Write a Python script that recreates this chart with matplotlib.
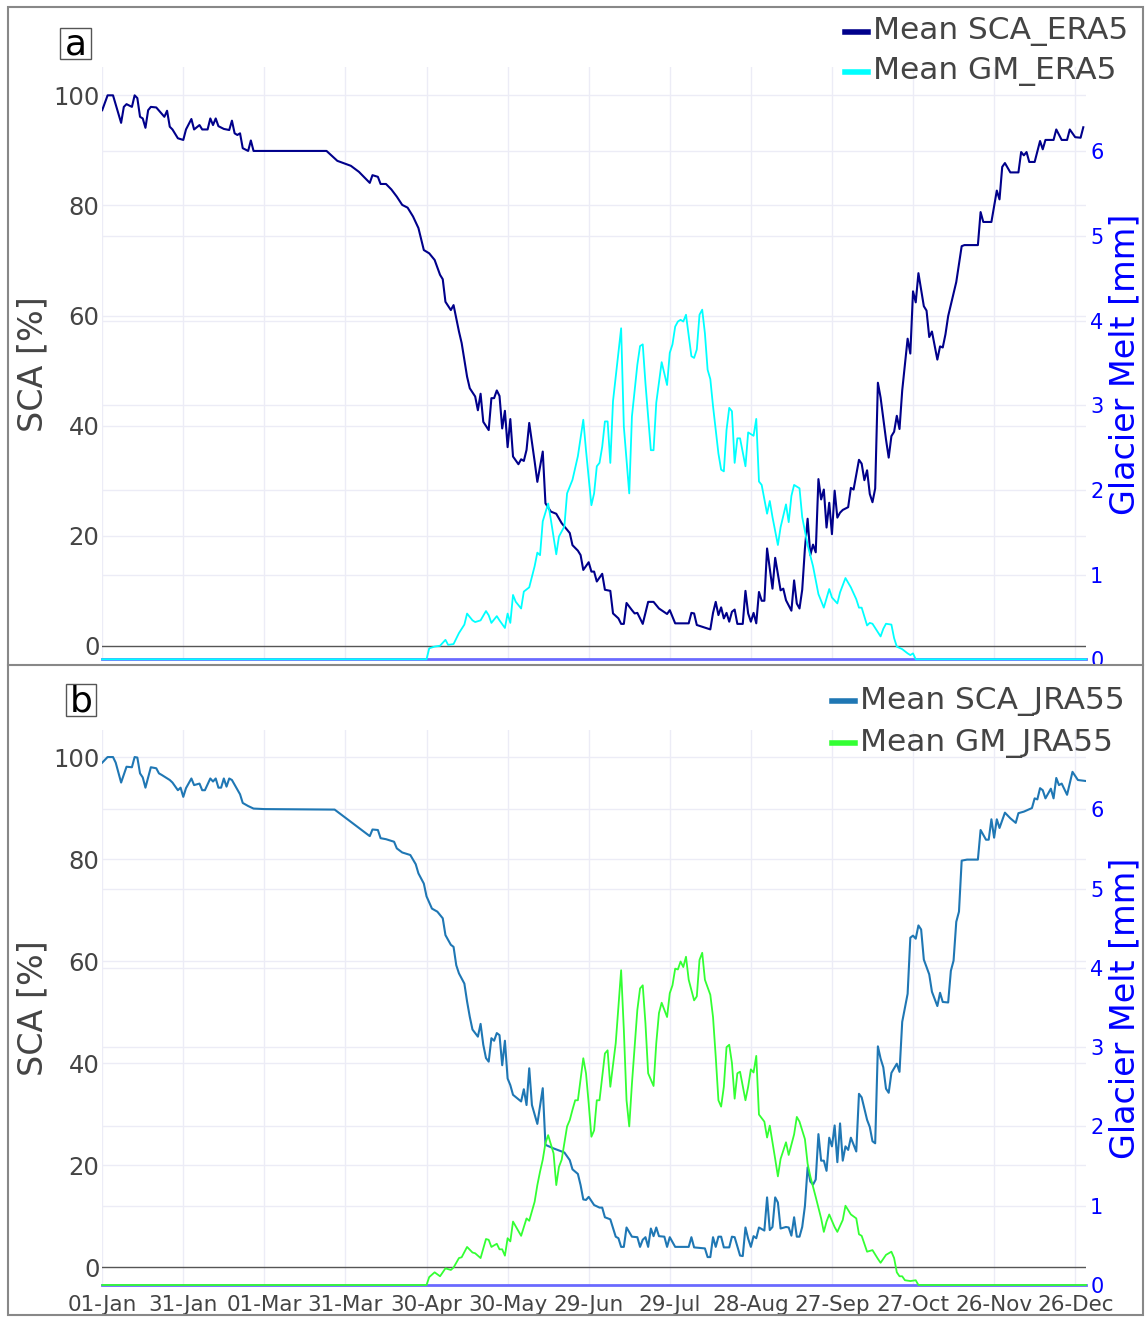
import matplotlib
matplotlib.use("Agg")
import matplotlib.pyplot as plt
from matplotlib.lines import Line2D
from matplotlib.patches import Rectangle
from matplotlib.transforms import Bbox, TransformedBbox, blended_transform_factory

plt.rcParams["font.family"] = ["DejaVu Sans"]

W, H = 1146, 1318

# x axis is day of year, labelled every 30 days
tick_days = [0, 30, 60, 90, 120, 150, 180, 210, 240, 270, 300, 330, 360]
tick_labels = ["01-Jan", "31-Jan", "01-Mar", "31-Mar", "30-Apr", "30-May",
               "29-Jun", "29-Jul", "28-Aug", "27-Sep", "27-Oct", "26-Nov", "26-Dec"]

# (day, snow covered area %) and (day, glacier melt mm)
sca_era5 = [
    (0, 97.3), (2, 100.0), (4, 100.0), (7, 95.0), (8, 97.9), (9, 98.4), (11, 97.9), (12, 100.0),
    (13, 99.5), (14, 96.1), (15, 95.8), (16, 94.1), (17, 97.3), (18, 97.9), (20, 97.8), (23, 96.1),
    (24, 97.2), (25, 94.3), (26, 93.8), (28, 92.2), (30, 91.9), (31, 93.8), (33, 95.7), (34, 93.8),
    (36, 94.6), (37, 93.8), (39, 93.8), (40, 95.8), (41, 94.6), (42, 95.8), (43, 94.4), (45, 93.9),
    (47, 93.7), (48, 95.4), (49, 93.1), (50, 92.8), (51, 93.1), (52, 90.4), (54, 89.9), (55, 91.8),
    (56, 89.9), (83, 89.9), (87, 88.1), (92, 87.2), (95, 86.1), (99, 84.1), (100, 85.5), (102, 85.2),
    (103, 83.9), (105, 83.9), (107, 82.9), (109, 81.6), (111, 80.1), (113, 79.6), (115, 78.0),
    (117, 75.9), (119, 71.9), (121, 71.3), (123, 70.1), (125, 67.4), (126, 66.6), (127, 62.5),
    (129, 61.0), (130, 61.9), (132, 57.1), (133, 55.0), (135, 48.9), (136, 46.8), (138, 45.3),
    (139, 42.8), (140, 45.8), (141, 40.7), (143, 39.2), (144, 45.0), (145, 45.0), (146, 46.4),
    (147, 45.4), (148, 39.5), (149, 42.7), (150, 36.1), (151, 41.2), (152, 34.4), (154, 33.0),
    (155, 33.9), (156, 33.6), (157, 35.6), (158, 40.5), (160, 33.5), (161, 29.8), (163, 35.3),
    (164, 25.9), (166, 24.4), (168, 24.0), (170, 22.3), (173, 20.5), (174, 18.3), (176, 17.3),
    (177, 16.5), (178, 13.8), (180, 15.2), (181, 13.5), (182, 13.5), (183, 11.7), (185, 13.1),
    (186, 10.2), (188, 10.0), (189, 5.9), (191, 5.0), (192, 4.0), (193, 4.0), (194, 7.8), (196, 6.5),
    (197, 5.9), (198, 6.0), (200, 4.0), (201, 6.0), (202, 8.0), (204, 8.0), (206, 6.8), (209, 5.8),
    (210, 6.5), (212, 4.1), (217, 4.1), (218, 6.0), (219, 5.9), (220, 3.8), (225, 3.0), (226, 6.0),
    (227, 8.0), (228, 5.6), (229, 7.0), (230, 5.0), (231, 6.0), (232, 4.4), (233, 6.2), (234, 6.6),
    (235, 4.0), (237, 4.0), (238, 10.0), (239, 5.9), (240, 4.4), (241, 6.0), (242, 4.1), (243, 9.8),
    (244, 8.2), (245, 8.2), (246, 17.7), (248, 10.4), (249, 16.0), (251, 10.1), (252, 10.4),
    (253, 8.3), (255, 6.4), (256, 11.9), (257, 7.7), (258, 6.8), (259, 10.2), (260, 17.7),
    (261, 23.1), (262, 16.5), (263, 18.4), (264, 17.0), (265, 30.3), (266, 26.6), (267, 28.4),
    (268, 21.5), (269, 26.0), (270, 20.3), (271, 28.2), (272, 23.3), (273, 24.2), (274, 24.7),
    (276, 25.2), (277, 28.7), (278, 28.4), (280, 33.8), (281, 33.1), (282, 30.1), (283, 31.9),
    (284, 27.6), (285, 26.1), (286, 28.6), (287, 47.8), (288, 45.1), (290, 37.5), (291, 34.2),
    (292, 38.1), (293, 38.9), (294, 41.8), (295, 39.4), (296, 46.4), (298, 55.8), (299, 53.1),
    (300, 64.4), (301, 62.4), (302, 67.7), (304, 61.7), (305, 60.9), (306, 56.1), (307, 57.1),
    (309, 52.0), (310, 54.4), (311, 54.2), (312, 56.6), (313, 59.9), (316, 66.1), (318, 72.6),
    (319, 72.8), (324, 72.8), (325, 78.8), (326, 77.0), (329, 77.0), (331, 82.7), (332, 81.1),
    (333, 87.0), (334, 87.7), (336, 86.0), (339, 86.0), (340, 89.7), (341, 89.1), (342, 89.7),
    (343, 87.9), (345, 87.9), (347, 91.7), (348, 90.2), (349, 91.9), (352, 91.9), (353, 93.8),
    (355, 91.9), (357, 91.9), (358, 93.8), (360, 92.4), (362, 92.3), (363, 94.2),
]

gm_era5 = [
    (0, 0.0), (120, 0.0), (121, 0.13), (123, 0.15), (125, 0.16), (127, 0.23), (128, 0.17),
    (130, 0.18), (132, 0.31), (134, 0.41), (135, 0.54), (137, 0.46), (138, 0.44), (140, 0.46),
    (142, 0.57), (143, 0.52), (144, 0.43), (146, 0.51), (147, 0.46), (149, 0.37), (150, 0.54),
    (151, 0.43), (152, 0.76), (153, 0.68), (155, 0.60), (156, 0.80), (158, 0.85), (160, 1.10),
    (161, 1.26), (162, 1.23), (163, 1.63), (165, 1.84), (166, 1.65), (168, 1.24), (169, 1.45),
    (171, 1.57), (172, 1.96), (174, 2.12), (176, 2.40), (178, 2.83), (179, 2.47), (181, 1.82),
    (182, 1.96), (183, 2.28), (184, 2.32), (185, 2.51), (186, 2.81), (187, 2.81), (188, 2.32),
    (189, 3.05), (190, 3.34), (192, 3.91), (193, 2.75), (195, 1.96), (196, 2.87), (198, 3.48),
    (199, 3.70), (200, 3.72), (201, 3.26), (203, 2.47), (204, 2.47), (205, 3.03), (207, 3.51),
    (209, 3.24), (210, 3.62), (211, 3.72), (212, 3.93), (213, 3.99), (214, 4.01), (215, 3.99),
    (216, 4.07), (218, 3.58), (219, 3.56), (220, 3.66), (221, 4.07), (222, 4.13), (223, 3.85),
    (224, 3.42), (225, 3.31), (226, 2.99), (228, 2.43), (229, 2.24), (230, 2.22), (231, 2.71),
    (232, 2.97), (233, 2.93), (234, 2.32), (235, 2.61), (236, 2.61), (238, 2.28), (239, 2.68),
    (241, 2.64), (242, 2.84), (243, 2.10), (244, 2.06), (246, 1.72), (247, 1.87), (248, 1.68),
    (250, 1.35), (251, 1.56), (253, 1.83), (254, 1.62), (255, 1.93), (256, 2.06), (258, 2.02),
    (259, 1.68), (261, 1.35), (263, 1.10), (265, 0.77), (267, 0.61), (269, 0.83), (270, 0.73),
    (272, 0.66), (273, 0.79), (275, 0.96), (277, 0.85), (279, 0.71), (280, 0.61), (281, 0.61),
    (283, 0.40), (284, 0.43), (285, 0.42), (287, 0.32), (288, 0.27), (289, 0.36), (290, 0.42),
    (292, 0.41), (293, 0.25), (294, 0.15), (296, 0.12), (298, 0.07), (299, 0.05), (300, 0.07),
    (301, 0.0), (364, 0.0),
]

sca_jra55 = [
    (0, 98.9), (2, 100.0), (4, 100.0), (5, 98.9), (7, 95.0), (9, 98.1), (11, 98.0), (12, 100.0),
    (13, 99.9), (14, 96.8), (15, 96.0), (16, 94.0), (18, 98.0), (20, 97.8), (21, 96.8), (22, 96.5),
    (25, 95.5), (26, 95.0), (28, 93.5), (29, 94.0), (30, 92.2), (31, 93.9), (33, 95.8), (34, 94.5),
    (36, 94.8), (37, 93.5), (38, 93.5), (40, 95.8), (41, 95.2), (42, 95.8), (43, 94.0), (44, 94.0),
    (45, 95.8), (46, 94.2), (47, 95.8), (48, 95.5), (51, 92.7), (52, 91.0), (54, 90.4), (56, 89.9),
    (60, 89.8), (86, 89.7), (99, 84.5), (100, 85.8), (102, 85.7), (103, 84.1), (105, 83.9),
    (108, 83.4), (109, 82.1), (111, 81.3), (114, 80.8), (116, 79.0), (117, 77.2), (119, 75.2),
    (120, 72.7), (122, 70.3), (124, 69.7), (126, 68.4), (127, 65.1), (129, 63.2), (130, 62.8),
    (131, 59.2), (132, 57.6), (134, 55.6), (135, 52.1), (136, 49.1), (137, 46.6), (139, 45.2),
    (140, 47.7), (141, 43.6), (142, 41.0), (143, 40.3), (144, 44.9), (145, 44.4), (146, 45.9),
    (147, 45.5), (148, 39.6), (149, 44.4), (150, 37.0), (151, 35.7), (152, 33.8), (155, 32.5),
    (156, 34.9), (157, 31.8), (158, 39.0), (159, 31.8), (161, 28.1), (163, 35.1), (164, 24.0),
    (167, 23.3), (171, 22.5), (173, 21.0), (174, 19.2), (176, 18.3), (177, 16.1), (178, 13.3),
    (179, 13.2), (180, 13.8), (182, 12.2), (184, 11.7), (185, 11.7), (186, 9.8), (188, 9.4),
    (190, 6.0), (191, 5.7), (192, 4.0), (193, 4.0), (194, 7.8), (196, 6.0), (198, 5.9), (199, 4.0),
    (200, 5.4), (201, 5.9), (202, 4.0), (203, 7.6), (204, 6.1), (205, 7.8), (206, 6.1), (208, 6.0),
    (209, 4.0), (210, 5.9), (212, 4.0), (217, 4.0), (218, 5.9), (219, 3.9), (223, 3.7), (224, 2.0),
    (225, 2.0), (226, 5.9), (227, 4.0), (228, 6.0), (229, 6.0), (230, 3.9), (232, 3.9), (233, 6.0),
    (234, 5.9), (236, 2.3), (237, 2.2), (238, 7.8), (239, 5.6), (240, 4.0), (241, 6.1), (242, 5.7),
    (243, 7.8), (245, 7.2), (246, 13.7), (247, 7.3), (248, 7.9), (249, 13.7), (250, 12.7),
    (251, 7.6), (253, 7.9), (254, 7.8), (255, 6.2), (256, 9.8), (257, 6.0), (258, 6.0), (259, 7.9),
    (260, 12.0), (261, 19.6), (262, 16.8), (263, 16.2), (264, 17.2), (265, 26.1), (266, 20.9),
    (267, 20.9), (268, 18.9), (269, 25.4), (270, 23.7), (271, 27.8), (272, 20.6), (273, 28.2),
    (274, 20.9), (275, 23.7), (276, 23.0), (277, 25.4), (279, 22.7), (280, 34.0), (281, 33.3),
    (283, 28.9), (284, 27.5), (285, 24.7), (286, 24.3), (287, 43.3), (288, 40.9), (289, 39.2),
    (290, 35.0), (291, 34.2), (292, 38.1), (293, 39.0), (294, 39.9), (295, 38.3), (296, 48.1),
    (298, 53.6), (299, 64.6), (300, 65.0), (301, 64.4), (302, 67.0), (303, 66.2), (304, 60.3),
    (306, 57.4), (307, 54.0), (309, 51.2), (310, 53.8), (311, 52.0), (313, 51.9), (314, 58.1),
    (315, 60.1), (316, 67.7), (317, 69.7), (318, 79.7), (320, 79.9), (324, 79.9), (325, 85.7),
    (327, 83.8), (328, 83.8), (329, 87.8), (330, 84.2), (331, 87.8), (332, 86.1), (334, 89.1),
    (336, 88.0), (338, 87.1), (339, 89.0), (341, 89.3), (344, 90.0), (345, 91.9), (346, 91.7),
    (347, 93.9), (348, 93.5), (349, 91.9), (351, 93.8), (352, 91.9), (353, 95.9), (354, 94.5),
    (355, 94.8), (357, 92.6), (359, 97.1), (361, 95.5), (364, 95.3),
]

gm_jra55 = [
    (0, 0.0), (120, 0.0), (121, 0.10), (123, 0.16), (125, 0.11), (127, 0.21), (129, 0.19),
    (130, 0.22), (132, 0.34), (133, 0.35), (135, 0.48), (137, 0.41), (138, 0.40), (140, 0.34),
    (142, 0.58), (143, 0.57), (144, 0.48), (146, 0.52), (147, 0.45), (148, 0.45), (149, 0.37),
    (150, 0.59), (151, 0.55), (152, 0.80), (154, 0.68), (155, 0.62), (156, 0.73), (157, 0.84),
    (158, 0.81), (160, 1.05), (161, 1.26), (162, 1.43), (163, 1.58), (164, 1.79), (165, 1.89),
    (167, 1.66), (168, 1.26), (169, 1.49), (170, 1.58), (172, 2.00), (173, 2.08), (174, 2.21),
    (175, 2.33), (176, 2.33), (178, 2.86), (179, 2.67), (180, 2.29), (181, 1.87), (182, 1.95),
    (183, 2.33), (184, 2.33), (186, 2.92), (187, 2.96), (188, 2.50), (190, 3.05), (191, 3.51),
    (192, 3.97), (193, 3.22), (194, 2.33), (195, 2.00), (196, 2.54), (198, 3.47), (199, 3.74),
    (200, 3.78), (201, 3.30), (202, 2.67), (204, 2.51), (205, 3.05), (206, 3.43), (207, 3.56),
    (209, 3.38), (210, 3.68), (211, 3.78), (212, 3.99), (213, 3.98), (214, 4.08), (215, 4.01),
    (216, 4.14), (217, 3.85), (219, 3.59), (220, 3.64), (221, 4.10), (222, 4.19), (223, 3.85),
    (225, 3.66), (226, 3.38), (227, 2.88), (228, 2.33), (229, 2.25), (230, 2.50), (231, 3.00),
    (232, 3.03), (233, 2.80), (234, 2.35), (235, 2.67), (236, 2.69), (238, 2.33), (239, 2.50),
    (240, 2.72), (241, 2.68), (242, 2.89), (243, 2.15), (245, 2.06), (246, 1.86), (247, 2.01),
    (249, 1.59), (250, 1.37), (251, 1.59), (253, 1.80), (254, 1.64), (256, 1.90), (257, 2.12),
    (258, 2.06), (260, 1.84), (261, 1.53), (262, 1.37), (264, 1.11), (266, 0.84), (267, 0.67),
    (268, 0.80), (269, 0.89), (271, 0.73), (272, 0.67), (274, 0.82), (275, 1.00), (277, 0.89),
    (279, 0.84), (280, 0.64), (281, 0.62), (283, 0.42), (285, 0.44), (287, 0.33), (288, 0.28),
    (290, 0.38), (292, 0.42), (293, 0.34), (294, 0.16), (295, 0.11), (296, 0.11), (297, 0.06),
    (299, 0.05), (301, 0.06), (302, 0.0), (364, 0.0),
]

GRID = "#ececf6"
TXT = "#444444"
PLOT_L, PLOT_R = 102.2, 1086

fig = plt.figure(figsize=(W / 100, H / 100), dpi=100)


def fx(x):
    return x / W


def fy(y):
    return 1 - y / H


def legend_entry(x_text, y, color, label):
    fig.add_artist(Line2D([fx(x_text - 28), fx(x_text - 5)], [fy(y), fy(y)],
                          transform=fig.transFigure, color=color, lw=4))
    fig.text(fx(x_text), fy(y), label, ha="left", va="center", fontsize=22.5, color=TXT)


def panel(top, bottom, sca, gm, sca_color, gm_color, sca_lim, show_dates, clip_top, clip_bottom):
    ax = fig.add_axes([fx(PLOT_L), fy(bottom), (PLOT_R - PLOT_L) / W, (bottom - top) / H])
    ax2 = ax.twinx()
    for a in (ax, ax2):
        for s in a.spines.values():
            s.set_visible(False)

    ax.set_xlim(0, 364)
    ax.set_ylim(*sca_lim)
    ax2.set_ylim(0, 7)

    ax.set_xticks(tick_days)
    ax.set_xticklabels(tick_labels if show_dates else [])
    ax.set_yticks(range(0, 101, 20))
    ax2.set_yticks(range(0, 7))
    ax.tick_params(axis="x", length=0, pad=7, labelsize=15.5, labelcolor=TXT)
    ax.tick_params(axis="y", length=0, pad=2, labelsize=17.5, labelcolor=TXT)
    ax2.tick_params(axis="y", length=0, pad=3, labelsize=15, labelcolor="blue")

    # grid for both y scales lives on the lower axes so the lines stay above it
    ax.grid(axis="x", color=GRID, lw=1)
    ax.set_axisbelow(True)
    for v in range(20, 101, 20):
        ax.axhline(v, color=GRID, lw=1, zorder=0.5)
    right = blended_transform_factory(ax.transAxes, ax2.transData)
    for v in range(1, 7):
        ax.plot([0, 1], [v, v], transform=right, color=GRID, lw=1, zorder=0.5)
    ax.axhline(0, color="#555555", lw=1, zorder=1)

    d, v = zip(*sca)
    ax.plot(d, v, color=sca_color, lw=1.5, zorder=2)

    ax2.axhline(0, color="#6a6aff", lw=2, zorder=1, clip_on=False)
    d, v = zip(*gm)
    ax2.plot(d, v, color=gm_color, lw=1.3, zorder=2, clip_on=False)

    box = TransformedBbox(Bbox([[0, fy(clip_bottom)], [1, fy(clip_top)]]), fig.transFigure)
    for lab in ax2.get_yticklabels() + ax.get_yticklabels():
        lab.set_clip_box(box)
        lab.set_clip_on(True)
    return ax, ax2


panel(66.7, 659.3, sca_era5, gm_era5, "#00008b", "#00ffff", (-2.43, 105.2), False, 8, 665)
panel(730, 1285, sca_jra55, gm_jra55, "#1f77b4", "#33ff33", (-3.47, 105.3), True, 665, 1318)

# axis titles
for yc in (364, 1008):
    fig.text(fx(33), fy(yc), "SCA [%]", rotation=90, ha="center", va="center",
             fontsize=24, color=TXT)
    fig.text(fx(1125), fy(yc), "Glacier Melt [mm]", rotation=90, ha="center", va="center",
             fontsize=24, color="blue")

# legends
legend_entry(873, 32, "#00008b", "Mean SCA_ERA5")
legend_entry(873, 72, "#00ffff", "Mean GM_ERA5")
legend_entry(860, 701, "#1f77b4", "Mean SCA_JRA55")
legend_entry(860, 743, "#33ff33", "Mean GM_JRA55")

# panel tags
for (x0, y0, w, h), tag in (((60, 28, 31, 31), "a"), ((66, 684, 30, 32), "b")):
    fig.add_artist(Rectangle((fx(x0), fy(y0 + h)), w / W, h / H, transform=fig.transFigure,
                             fill=False, ec="#555555", lw=1))
    fig.text(fx(x0 + w / 2), fy(y0 + h / 2 + 1), tag, ha="center", va="center",
             fontsize=26, color="black")

# outer frame and divider
fig.add_artist(Rectangle((fx(8), fy(1315)), (1143 - 8) / W, (1315 - 7) / H,
                         transform=fig.transFigure, fill=False, ec="#888888", lw=1.5))
fig.add_artist(Line2D([fx(8), fx(1143)], [fy(665), fy(665)], transform=fig.transFigure,
                      color="#888888", lw=1.5))

fig.savefig("out.png", dpi=100)
